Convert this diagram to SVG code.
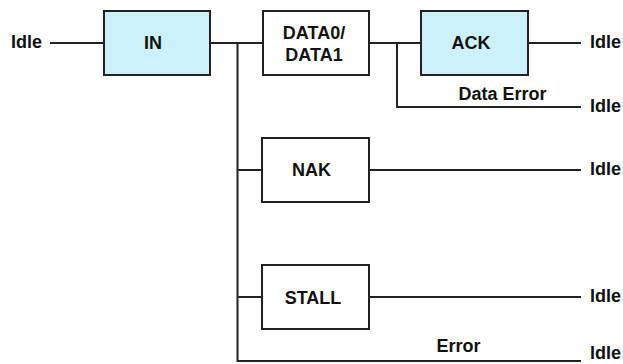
<svg xmlns="http://www.w3.org/2000/svg" width="623" height="364" viewBox="0 0 623 364">
<style>
.box{fill:#ffffff;stroke:#222222;stroke-width:2}
.hl{fill:#cdf1fb}
.t{font-family:"Liberation Sans",Arial,sans-serif;font-weight:bold;font-size:18px;fill:#111111}
.m{text-anchor:middle}
.c{fill:none;stroke:#222222;stroke-width:2}
</style>
<rect width="623" height="364" fill="#ffffff"/>
<g id="connectors">
<path class="c" d="M50,43H104M210,43H263M237.5,43V361H581M237.5,170H262M237.5,297H262M369,43H421M397,43V107H581M528,43H581M369,170H581M369,297H581"/>
<text class="t m" x="502.5" y="100">Data Error</text>
<text class="t m" x="458.5" y="352">Error</text>
</g>
<g id="idle-start"><text class="t" x="11" y="48">Idle</text></g>
<g id="in"><rect class="box hl" x="104" y="11" width="106" height="64"/><text class="t m" x="153" y="49">IN</text></g>
<g id="data"><rect class="box" x="263" y="11" width="106" height="64"/><text class="t m" x="314" y="39">DATA0/</text><text class="t m" x="314" y="61">DATA1</text></g>
<g id="ack"><rect class="box hl" x="421" y="11" width="107" height="64"/><text class="t m" x="471" y="49">ACK</text></g>
<g id="nak"><rect class="box" x="262" y="138" width="107" height="64"/><text class="t m" x="311.5" y="176">NAK</text></g>
<g id="stall"><rect class="box" x="262" y="265" width="107" height="64"/><text class="t m" x="313" y="304">STALL</text></g>
<g id="idle-ack"><text class="t" x="590" y="48">Idle</text></g>
<g id="idle-dataerror"><text class="t" x="590" y="112">Idle</text></g>
<g id="idle-nak"><text class="t" x="590" y="175">Idle</text></g>
<g id="idle-stall"><text class="t" x="590" y="302">Idle</text></g>
<g id="idle-error"><text class="t" x="590" y="359">Idle</text></g>
</svg>
